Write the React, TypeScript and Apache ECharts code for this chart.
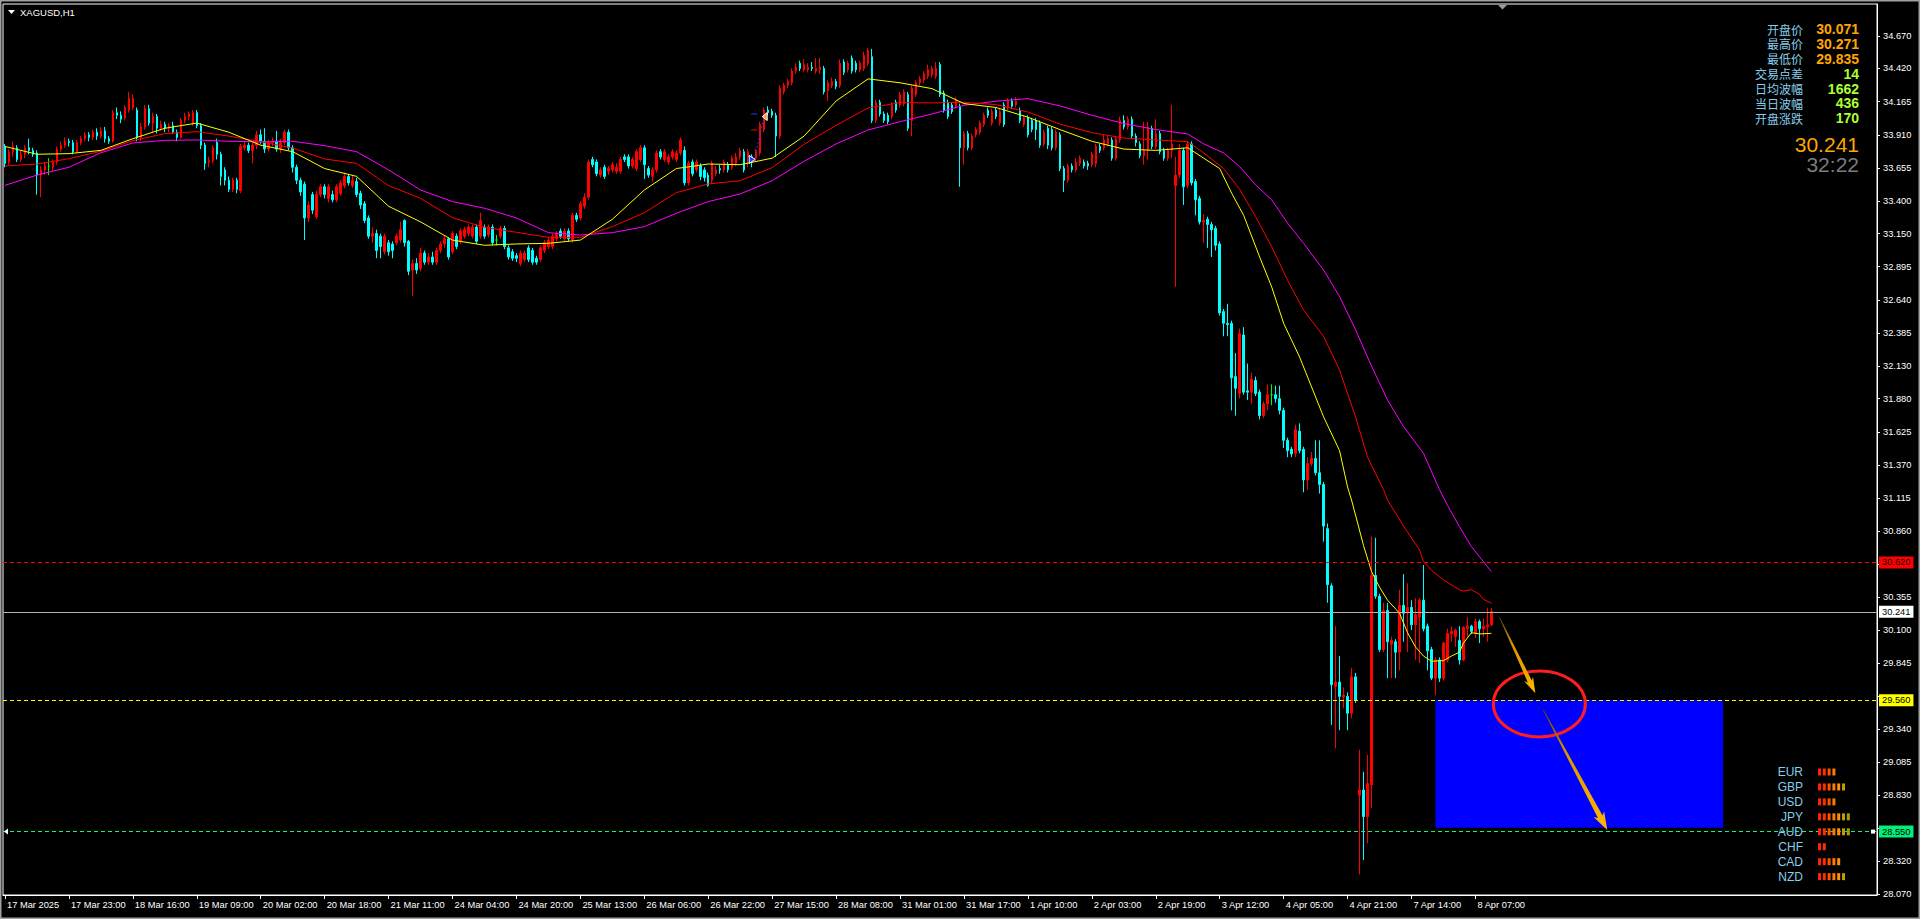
import React, { useEffect, useRef } from "react";
import * as echarts from "echarts";

const FONT = '"Liberation Sans", Arial, sans-serif';
const CJK = '"Noto Sans CJK SC", "Noto Sans", sans-serif';

const symbolTitle = "XAGUSD,H1";
const xTickLabels = [
  "17 Mar 2025", "17 Mar 23:00", "18 Mar 16:00", "19 Mar 09:00", "20 Mar 02:00", "20 Mar 18:00",
  "21 Mar 11:00", "24 Mar 04:00", "24 Mar 20:00", "25 Mar 13:00", "26 Mar 06:00", "26 Mar 22:00",
  "27 Mar 15:00", "28 Mar 08:00", "31 Mar 01:00", "31 Mar 17:00", "1 Apr 10:00", "2 Apr 03:00",
  "2 Apr 19:00", "3 Apr 12:00", "4 Apr 05:00", "4 Apr 21:00", "7 Apr 14:00", "8 Apr 07:00",
];
const BARS_PER_LABEL = 16;
const SLOT_COUNT = 469; // bars + empty chart shift on the right

// price-scale ticks; labels hidden under the price tags are left out of the label list
const yTickValues = [
  34.67, 34.42, 34.165, 33.91, 33.655, 33.4, 33.15, 32.895, 32.64, 32.385, 32.13, 31.88, 31.625,
  31.37, 31.115, 30.86, 30.605, 30.355, 30.1, 29.845, 29.59, 29.34, 29.085, 28.83, 28.575, 28.32, 28.07,
];
const yLabelValues = [
  34.67, 34.42, 34.165, 33.91, 33.655, 33.4, 33.15, 32.895, 32.64, 32.385, 32.13, 31.88, 31.625,
  31.37, 31.115, 30.86, 30.355, 30.1, 29.845, 29.34, 29.085, 28.83, 28.32, 28.07,
];
const Y_MIN = 28.062;
const Y_MAX = 34.916;

// [open, close, low, high]
const bars17Mar = [
  [33.82, 33.69, 33.66, 33.84], [33.7, 33.78, 33.68, 33.8], [33.78, 33.82, 33.74, 33.86], [33.81, 33.72, 33.7, 33.83],
  [33.72, 33.76, 33.7, 33.79], [33.76, 33.81, 33.73, 33.83], [33.81, 33.79, 33.76, 33.88], [33.79, 33.76, 33.74, 33.81],
  [33.77, 33.6, 33.45, 33.79], [33.6, 33.64, 33.43, 33.67], [33.64, 33.67, 33.6, 33.7], [33.67, 33.67, 33.6, 33.73],
  [33.66, 33.7, 33.63, 33.72], [33.7, 33.8, 33.68, 33.82], [33.8, 33.83, 33.78, 33.86], [33.83, 33.86, 33.81, 33.89],
  [33.86, 33.85, 33.82, 33.88],
];
const bars18Mar = [
  [33.85, 33.78, 33.76, 33.87], [33.78, 33.85, 33.77, 33.87], [33.85, 33.88, 33.83, 33.9], [33.88, 33.91, 33.86, 33.93],
  [33.91, 33.89, 33.86, 33.93], [33.89, 33.93, 33.87, 33.95], [33.93, 33.9, 33.87, 33.96], [33.9, 33.94, 33.88, 33.97],
  [33.94, 33.88, 33.85, 33.97], [33.88, 33.86, 33.84, 33.9], [33.86, 34.08, 33.85, 34.1], [34.08, 34.06, 34.03, 34.12],
  [34.06, 34.03, 34.0, 34.09], [34.04, 34.12, 34.02, 34.14], [34.1, 34.19, 34.08, 34.24], [34.12, 34.19, 34.1, 34.22],
  [34.1, 33.89, 33.86, 34.12], [33.89, 33.97, 33.86, 34.0], [33.97, 34.11, 33.95, 34.14], [34.11, 34.0, 33.98, 34.14],
  [34.0, 34.05, 33.93, 34.08], [34.05, 33.96, 33.92, 34.07], [33.96, 33.99, 33.94, 34.02],
];
const bars19Mar = [
  [33.99, 33.96, 33.93, 34.01], [33.96, 33.98, 33.93, 34.0], [33.98, 33.93, 33.92, 34.01], [33.93, 33.89, 33.86, 33.95],
  [33.89, 34.02, 33.88, 34.04], [34.02, 34.05, 34.0, 34.08], [34.05, 34.07, 34.02, 34.09], [34.0, 34.08, 33.98, 34.1],
  [34.08, 33.98, 33.96, 34.1], [33.98, 33.83, 33.8, 34.0], [33.83, 33.69, 33.64, 33.85], [33.7, 33.71, 33.66, 33.74],
  [33.71, 33.81, 33.69, 33.83], [33.85, 33.76, 33.72, 33.88], [33.76, 33.59, 33.52, 33.78], [33.64, 33.56, 33.52, 33.66],
  [33.56, 33.49, 33.47, 33.59], [33.49, 33.56, 33.47, 33.58], [33.56, 33.49, 33.46, 33.58], [33.48, 33.82, 33.46, 33.84],
  [33.81, 33.83, 33.79, 33.86], [33.83, 33.79, 33.77, 33.85], [33.79, 33.83, 33.69, 33.85],
];
const bars20Mar = [
  [33.83, 33.91, 33.8, 33.94], [33.91, 33.86, 33.84, 33.95], [33.86, 33.8, 33.77, 33.96], [33.8, 33.85, 33.78, 33.87],
  [33.85, 33.86, 33.82, 33.89], [33.86, 33.8, 33.78, 33.94], [33.8, 33.85, 33.77, 33.88], [33.85, 33.93, 33.83, 33.95],
  [33.93, 33.81, 33.79, 33.95], [33.81, 33.66, 33.62, 33.83], [33.66, 33.56, 33.53, 33.68], [33.56, 33.47, 33.44, 33.58],
  [33.53, 33.27, 33.1, 33.55], [33.27, 33.37, 33.24, 33.4], [33.45, 33.33, 33.3, 33.47], [33.28, 33.45, 33.26, 33.48],
  [33.45, 33.51, 33.43, 33.53], [33.51, 33.45, 33.42, 33.53], [33.42, 33.51, 33.39, 33.53], [33.45, 33.41, 33.39, 33.48],
  [33.41, 33.51, 33.39, 33.53], [33.46, 33.54, 33.44, 33.56], [33.52, 33.59, 33.5, 33.62],
];
const bars21Mar = [
  [33.59, 33.54, 33.52, 33.61], [33.52, 33.56, 33.5, 33.6], [33.55, 33.45, 33.43, 33.58], [33.46, 33.37, 33.34, 33.48],
  [33.38, 33.25, 33.23, 33.4], [33.27, 33.13, 33.11, 33.29], [33.13, 33.15, 33.08, 33.2], [33.15, 33.02, 32.96, 33.18],
  [33.13, 33.05, 32.96, 33.15], [33.01, 33.13, 32.99, 33.15], [33.08, 33.01, 32.98, 33.1], [33.07, 33.02, 32.96, 33.09],
  [33.08, 33.13, 33.06, 33.15], [33.1, 33.18, 33.08, 33.24], [33.25, 33.08, 33.05, 33.26], [33.09, 32.86, 32.83, 33.1],
  [32.87, 32.92, 32.67, 32.95], [32.92, 32.87, 32.84, 32.96], [32.88, 33.0, 32.86, 33.04], [33.0, 32.93, 32.91, 33.02],
  [32.93, 32.97, 32.91, 33.0], [32.97, 32.93, 32.91, 33.01], [32.93, 33.02, 32.91, 33.04],
];
const bars24Mar = [
  [33.02, 33.07, 33.0, 33.09], [33.07, 33.11, 33.04, 33.13], [33.11, 32.97, 32.95, 33.12], [33.01, 33.15, 32.99, 33.17],
  [33.13, 33.05, 33.03, 33.15], [33.09, 33.17, 33.07, 33.19], [33.13, 33.18, 33.11, 33.2], [33.15, 33.2, 33.13, 33.22],
  [33.13, 33.2, 33.11, 33.22], [33.2, 33.09, 33.07, 33.22], [33.13, 33.25, 33.11, 33.31], [33.2, 33.13, 33.11, 33.22],
  [33.14, 33.2, 33.12, 33.22], [33.2, 33.08, 33.06, 33.22], [33.1, 33.1, 33.06, 33.14], [33.13, 33.19, 33.11, 33.21],
  [33.19, 33.05, 33.03, 33.21], [33.04, 32.97, 32.95, 33.06], [33.01, 32.96, 32.94, 33.03], [32.98, 32.96, 32.93, 33.0],
  [32.92, 33.0, 32.9, 33.02], [32.95, 33.0, 32.93, 33.02], [33.04, 32.95, 32.93, 33.06],
];
const bars25Mar = [
  [33.02, 32.93, 32.91, 33.04], [32.96, 32.93, 32.91, 32.98], [32.95, 33.04, 32.93, 33.06], [33.02, 33.08, 33.0, 33.1],
  [33.05, 33.1, 33.03, 33.12], [33.05, 33.13, 33.03, 33.15], [33.11, 33.15, 33.09, 33.17], [33.17, 33.13, 33.11, 33.19],
  [33.11, 33.17, 33.09, 33.19], [33.17, 33.11, 33.09, 33.19], [33.1, 33.29, 33.08, 33.31], [33.29, 33.26, 33.24, 33.31],
  [33.27, 33.38, 33.25, 33.4], [33.36, 33.43, 33.34, 33.46], [33.43, 33.7, 33.41, 33.72], [33.72, 33.68, 33.66, 33.74],
  [33.7, 33.61, 33.59, 33.72], [33.6, 33.64, 33.58, 33.66], [33.66, 33.59, 33.57, 33.68], [33.63, 33.65, 33.6, 33.67],
  [33.64, 33.68, 33.62, 33.7], [33.63, 33.66, 33.61, 33.69], [33.63, 33.72, 33.61, 33.74],
];
const bars26Mar = [
  [33.74, 33.72, 33.7, 33.76], [33.74, 33.67, 33.65, 33.76], [33.67, 33.72, 33.65, 33.74], [33.65, 33.78, 33.63, 33.8],
  [33.72, 33.81, 33.7, 33.83], [33.81, 33.68, 33.57, 33.83], [33.65, 33.6, 33.58, 33.67], [33.59, 33.64, 33.55, 33.66],
  [33.64, 33.77, 33.62, 33.79], [33.78, 33.74, 33.72, 33.8], [33.72, 33.78, 33.7, 33.8], [33.7, 33.74, 33.68, 33.76],
  [33.74, 33.78, 33.72, 33.8], [33.72, 33.77, 33.7, 33.79], [33.77, 33.87, 33.75, 33.89], [33.79, 33.54, 33.52, 33.82],
  [33.54, 33.69, 33.52, 33.71], [33.7, 33.61, 33.59, 33.72], [33.64, 33.7, 33.62, 33.72], [33.67, 33.59, 33.56, 33.69],
  [33.64, 33.58, 33.55, 33.66], [33.6, 33.52, 33.51, 33.62], [33.56, 33.69, 33.54, 33.71],
];
const bars27Mar = [
  [33.61, 33.64, 33.59, 33.67], [33.65, 33.64, 33.61, 33.68], [33.64, 33.7, 33.62, 33.72], [33.68, 33.64, 33.62, 33.7],
  [33.66, 33.73, 33.64, 33.75], [33.69, 33.74, 33.67, 33.77], [33.74, 33.79, 33.72, 33.81], [33.78, 33.64, 33.62, 33.8],
  [33.74, 33.78, 33.66, 33.8], [33.74, 33.7, 33.66, 33.76], [33.73, 33.78, 33.7, 33.8], [33.77, 33.99, 33.75, 34.01],
  [33.95, 34.1, 33.93, 34.12], [34.1, 34.08, 34.06, 34.13], [34.09, 34.06, 34.04, 34.11], [34.06, 33.9, 33.74, 34.08],
  [33.9, 34.27, 33.88, 34.29], [34.24, 34.29, 34.22, 34.31], [34.29, 34.32, 34.27, 34.34], [34.31, 34.4, 34.29, 34.42],
  [34.4, 34.43, 34.38, 34.46], [34.46, 34.42, 34.4, 34.48], [34.41, 34.45, 34.39, 34.49],
];
const bars28Mar = [
  [34.41, 34.43, 34.39, 34.46], [34.43, 34.42, 34.4, 34.47], [34.4, 34.42, 34.38, 34.5], [34.41, 34.43, 34.38, 34.5],
  [34.42, 34.24, 34.22, 34.44], [34.25, 34.31, 34.17, 34.33], [34.29, 34.32, 34.27, 34.35], [34.32, 34.28, 34.26, 34.34],
  [34.29, 34.46, 34.27, 34.49], [34.47, 34.39, 34.37, 34.49], [34.41, 34.46, 34.39, 34.48], [34.5, 34.4, 34.38, 34.52],
  [34.46, 34.41, 34.39, 34.48], [34.41, 34.46, 34.39, 34.48], [34.42, 34.52, 34.4, 34.55], [34.46, 34.56, 34.44, 34.58],
  [34.51, 34.02, 34.0, 34.57], [34.02, 34.16, 34.0, 34.18], [34.16, 34.07, 34.05, 34.18], [34.07, 34.02, 34.0, 34.09],
  [34.06, 34.01, 33.99, 34.08], [34.05, 34.14, 34.03, 34.16], [34.16, 34.1, 34.08, 34.18],
];
const bars31Mar = [
  [34.14, 34.22, 34.12, 34.24], [34.15, 34.24, 34.13, 34.26], [34.22, 33.96, 33.94, 34.24], [34.02, 34.27, 33.9, 34.29],
  [34.22, 34.31, 34.2, 34.33], [34.31, 34.34, 34.29, 34.36], [34.33, 34.38, 34.31, 34.4], [34.36, 34.41, 34.34, 34.45],
  [34.37, 34.42, 34.35, 34.44], [34.36, 34.42, 34.34, 34.47], [34.45, 34.22, 34.2, 34.47], [34.23, 34.1, 34.08, 34.25],
  [34.16, 34.05, 34.03, 34.18], [34.14, 34.09, 34.07, 34.16], [34.13, 34.18, 34.11, 34.2], [34.13, 33.81, 33.51, 34.15],
  [33.81, 33.92, 33.68, 33.94], [33.92, 33.81, 33.79, 33.94], [33.81, 33.9, 33.79, 33.92], [33.91, 33.95, 33.89, 33.97],
  [33.93, 34.0, 33.91, 34.02], [33.99, 34.06, 33.97, 34.08], [34.1, 34.06, 34.04, 34.12],
];
const bars1Apr = [
  [34.0, 34.09, 33.98, 34.11], [34.1, 34.05, 34.03, 34.12], [34.0, 34.09, 33.98, 34.11], [34.14, 33.99, 33.97, 34.16],
  [34.12, 34.17, 34.1, 34.19], [34.17, 34.13, 34.11, 34.19], [34.14, 34.17, 34.12, 34.2], [34.1, 34.02, 34.0, 34.12],
  [33.99, 34.04, 33.97, 34.06], [34.04, 33.91, 33.89, 34.06], [34.02, 33.95, 33.93, 34.04], [34.02, 33.95, 33.87, 34.04],
  [34.0, 33.83, 33.81, 34.02], [33.84, 33.93, 33.82, 33.95], [33.96, 33.83, 33.8, 33.98], [33.95, 33.81, 33.79, 33.97],
  [33.81, 33.93, 33.79, 33.95], [33.91, 33.65, 33.63, 33.93], [33.65, 33.56, 33.47, 33.67], [33.56, 33.67, 33.54, 33.69],
  [33.67, 33.64, 33.62, 33.69], [33.64, 33.7, 33.62, 33.73], [33.69, 33.73, 33.67, 33.75],
];
const bars2Apr = [
  [33.7, 33.67, 33.65, 33.72], [33.69, 33.67, 33.64, 33.71], [33.68, 33.76, 33.66, 33.78], [33.69, 33.82, 33.66, 33.84],
  [33.82, 33.79, 33.77, 33.84], [33.81, 33.87, 33.79, 33.91], [33.84, 33.88, 33.82, 33.9], [33.87, 33.73, 33.71, 33.89],
  [33.73, 33.88, 33.71, 33.9], [33.87, 34.02, 33.85, 34.05], [34.02, 33.97, 33.95, 34.06], [33.97, 34.03, 33.95, 34.05],
  [34.03, 33.9, 33.88, 34.05], [33.9, 33.85, 33.82, 33.92], [33.84, 33.75, 33.73, 33.86], [33.75, 33.79, 33.68, 34.01],
  [33.79, 33.97, 33.72, 34.01], [33.96, 33.82, 33.8, 33.98], [33.82, 33.92, 33.8, 34.03], [33.92, 33.78, 33.76, 33.94],
  [33.79, 33.73, 33.71, 33.81], [33.73, 33.79, 33.71, 33.81], [33.79, 33.84, 33.73, 34.14],
];
const bars3Apr = [
  [33.52, 33.6, 32.74, 33.74], [33.6, 33.79, 33.58, 33.84], [33.79, 33.51, 33.37, 33.81], [33.52, 33.84, 33.5, 33.86],
  [33.84, 33.54, 33.52, 33.86], [33.55, 33.41, 33.29, 33.57], [33.42, 33.24, 33.22, 33.44], [33.24, 33.25, 33.08, 33.3],
  [33.26, 33.22, 33.04, 33.28], [33.22, 33.18, 32.97, 33.24], [33.19, 33.06, 33.02, 33.21], [33.07, 32.54, 32.52, 33.09],
  [32.55, 32.46, 32.36, 32.57], [32.46, 32.45, 32.36, 32.61], [32.46, 32.04, 31.79, 32.48], [32.05, 31.96, 31.75, 32.23],
  [31.92, 32.38, 31.88, 32.42], [32.37, 31.93, 31.91, 32.43], [31.94, 31.93, 31.87, 32.15], [31.93, 32.03, 31.84, 32.08],
  [32.02, 31.92, 31.9, 32.05], [31.93, 31.75, 31.72, 31.95], [31.75, 31.84, 31.73, 31.86],
];
const bars4Apr = [
  [31.84, 31.91, 31.79, 31.99], [31.91, 31.91, 31.83, 31.99], [31.91, 31.88, 31.85, 31.98], [31.88, 31.79, 31.76, 31.98],
  [31.79, 31.56, 31.5, 31.81], [31.56, 31.48, 31.43, 31.58], [31.49, 31.455, 31.43, 31.51], [31.46, 31.64, 31.43, 31.68],
  [31.63, 31.48, 31.46, 31.69], [31.49, 31.255, 31.16, 31.51], [31.255, 31.38, 31.18, 31.43], [31.38, 31.42, 31.36, 31.47],
  [31.42, 31.31, 31.29, 31.56], [31.31, 31.22, 31.15, 31.56], [31.22, 30.9, 30.78, 31.24], [30.88, 30.45, 30.31, 30.92],
  [30.44, 29.68, 29.37, 30.46], [29.665, 29.7, 29.19, 30.13], [29.7, 29.59, 29.33, 29.9], [29.585, 29.6, 29.5, 29.66],
  [29.59, 29.46, 29.33, 29.62], [29.46, 29.74, 29.42, 29.81], [29.74, 29.56, 29.54, 29.77],
];
const bars7Apr = [
  [28.83, 28.87, 28.22, 29.18], [28.87, 28.665, 28.33, 29.01], [28.665, 28.92, 28.46, 29.14], [28.91, 30.52, 28.73, 30.82],
  [30.52, 30.36, 30.34, 30.81], [30.36, 29.95, 29.93, 30.38], [29.95, 30.25, 29.93, 30.31], [30.25, 30.01, 29.73, 30.31],
  [29.99, 30.02, 29.73, 30.05], [30.01, 29.93, 29.73, 30.03], [29.93, 30.29, 29.79, 30.41], [30.29, 30.23, 30.01, 30.53],
  [30.23, 30.275, 29.93, 30.46], [30.275, 30.14, 30.1, 30.33], [30.14, 30.22, 29.87, 30.345], [30.2, 30.33, 29.845, 30.345],
  [30.33, 30.11, 30.09, 30.6], [30.13, 29.94, 29.79, 30.15], [29.95, 29.73, 29.715, 29.97], [29.73, 29.87, 29.6, 29.89],
  [29.87, 29.73, 29.7, 29.89], [29.73, 30.0, 29.71, 30.01], [29.87, 30.075, 29.85, 30.11],
];
const bars8Apr = [
  [30.071, 30.09, 30.01, 30.13], [30.05, 30.1, 29.97, 30.11], [30.02, 29.87, 29.835, 30.13], [29.87, 30.12, 29.86, 30.13],
  [30.11, 30.13, 30.05, 30.2], [30.13, 30.09, 30.07, 30.14], [30.075, 30.165, 30.04, 30.19], [30.165, 30.11, 30.0, 30.18],
  [30.11, 30.13, 30.05, 30.19], [30.125, 30.14, 30.01, 30.271], [30.14, 30.241, 30.13, 30.27],
];

// Moving averages: [bar index, value]
const maFast = [
  [0, 33.82], [8, 33.76], [16, 33.765], [24, 33.79], [32, 33.88], [40, 33.96], [48, 34.0], [56, 33.93], [64, 33.83],
  [72, 33.78], [80, 33.65], [88, 33.59], [96, 33.36], [104, 33.24], [112, 33.1], [120, 33.06], [128, 33.07],
  [136, 33.075], [144, 33.1], [152, 33.26], [160, 33.485], [168, 33.65], [176, 33.685], [184, 33.68], [192, 33.73],
  [200, 33.9], [208, 34.17], [216, 34.34], [224, 34.31], [232, 34.265], [240, 34.15], [248, 34.12], [256, 34.045],
  [264, 33.95], [272, 33.86], [280, 33.8], [288, 33.79], [296, 33.81], [300, 33.73], [304, 33.65], [307, 33.46],
  [310, 33.29], [314, 32.97], [317, 32.74], [320, 32.46], [324, 32.2], [327, 31.97], [330, 31.74], [334, 31.48],
  [336, 31.2], [337, 31.1], [340, 30.75], [342, 30.55], [344, 30.43], [346, 30.33], [349, 30.23], [351, 30.08],
  [353, 29.97], [355, 29.9], [357, 29.86], [360, 29.865], [362, 29.9], [364, 29.93], [365, 30.0], [367, 30.08],
  [369, 30.07], [372, 30.075],
];
const maMid = [
  [0, 33.67], [8, 33.685], [16, 33.726], [24, 33.783], [32, 33.865], [40, 33.919], [48, 33.934], [56, 33.9],
  [64, 33.857], [72, 33.808], [80, 33.724], [88, 33.69], [96, 33.519], [104, 33.421], [112, 33.272], [120, 33.198],
  [128, 33.16], [136, 33.121], [144, 33.121], [152, 33.203], [160, 33.31], [168, 33.465], [176, 33.532], [184, 33.557],
  [192, 33.657], [200, 33.837], [208, 33.983], [216, 34.116], [224, 34.157], [232, 34.155], [240, 34.16], [248, 34.142],
  [256, 34.085], [264, 33.993], [272, 33.926], [280, 33.885], [288, 33.87], [296, 33.857], [300, 33.77], [305, 33.65],
  [309, 33.49], [313, 33.28], [317, 33.05], [321, 32.79], [325, 32.56], [330, 32.36], [334, 32.1], [338, 31.74],
  [341, 31.43], [345, 31.18], [346, 31.1], [350, 30.9], [354, 30.716], [355, 30.627], [357, 30.56], [360, 30.485],
  [364, 30.41], [365, 30.4], [367, 30.41], [369, 30.375], [370, 30.337], [372, 30.306],
];
const maSlow = [
  [0, 33.521], [8, 33.6], [16, 33.66], [24, 33.772], [32, 33.847], [40, 33.867], [48, 33.87], [56, 33.86], [64, 33.855],
  [72, 33.86], [80, 33.826], [88, 33.78], [96, 33.64], [104, 33.485], [112, 33.396], [120, 33.345], [128, 33.27],
  [136, 33.157], [144, 33.139], [152, 33.157], [160, 33.203], [168, 33.306], [176, 33.396], [184, 33.455],
  [192, 33.557], [200, 33.706], [208, 33.84], [216, 33.947], [224, 34.011], [232, 34.07], [240, 34.137],
  [248, 34.168], [256, 34.188], [264, 34.132], [272, 34.06], [280, 33.996], [288, 33.95], [296, 33.916], [300, 33.84],
  [305, 33.77], [309, 33.665], [313, 33.524], [317, 33.41], [321, 33.23], [325, 33.075], [330, 32.87], [334, 32.665],
  [338, 32.41], [342, 32.13], [346, 31.87], [350, 31.665], [355, 31.46], [359, 31.18], [361, 31.06], [364, 30.896],
  [367, 30.742], [370, 30.626], [372, 30.55],
];

const levelRed = 30.62;
const lastPrice = 30.241;
const levelYellow = 29.56;
const levelGreen = 28.55;
const zoneTop = 29.56;
const zoneBottom = 28.58;
const zoneStartBar = 358;
const zoneEndBar = 430;
const arrowOne = [[374, 30.2], [383, 29.614]];
const arrowTwo = [[385, 29.485], [401, 28.562]];
const circleCenter = [384, 29.532];
const tradeOpen = [187, 33.72];
const tradeClose = [190, 34.05];
const tradeStop = 33.947;
const tradeTarget = 34.07;

const infoLabels = ["开盘价", "最高价", "最低价", "交易点差", "日均波幅", "当日波幅", "开盘涨跌"];
const infoValues = ["30.071", "30.271", "29.835", "14", "1662", "436", "170"];
const countdown = "32:22";
const currencies = ["EUR", "GBP", "USD", "JPY", "AUD", "CHF", "CAD", "NZD"];
const currencyStrength = [4, 6, 4, 7, 7, 2, 5, 6];
const strengthColors = ["#FF2400", "#FF2E00", "#FF5200", "#FF7A00", "#FF9200", "#C99A00", "#A3A300"];

const allBars = [
  ...bars17Mar, ...bars18Mar, ...bars19Mar, ...bars20Mar, ...bars21Mar, ...bars24Mar, ...bars25Mar, ...bars26Mar,
  ...bars27Mar, ...bars28Mar, ...bars31Mar, ...bars1Apr, ...bars2Apr, ...bars3Apr, ...bars4Apr, ...bars7Apr, ...bars8Apr,
];

function maSeriesData(points: number[][]) {
  const arr: (number | null)[] = new Array(allBars.length).fill(null);
  points.forEach(([i, v]) => {
    arr[i] = v;
  });
  return arr;
}

function hLine(value: number, color: string, type: any, labelBg: string) {
  return {
    yAxis: value,
    lineStyle: { color, type, width: 1 },
    label: {
      show: true,
      position: "end",
      distance: 2,
      formatter: value.toFixed(3),
      color: "#000",
      backgroundColor: labelBg,
      fontFamily: FONT,
      fontSize: 9.3,
      padding: [2, 3, 1, 3],
    },
  };
}

function arrowPoly(s: number[], t: number[], headLen: number, headHalf: number, w0: number, w1: number) {
  const dx = t[0] - s[0];
  const dy = t[1] - s[1];
  const len = Math.hypot(dx, dy);
  const ux = dx / len;
  const uy = dy / len;
  const nx = -uy;
  const ny = ux;
  const bx = t[0] - ux * headLen;
  const by = t[1] - uy * headLen;
  return [
    [s[0] + nx * w0, s[1] + ny * w0],
    [bx + nx * w1, by + ny * w1],
    [bx + nx * headHalf - ux * 3, by + ny * headHalf - uy * 3],
    [t[0], t[1]],
    [bx - nx * headHalf - ux * 3, by - ny * headHalf - uy * 3],
    [bx - nx * w1, by - ny * w1],
    [s[0] - nx * w0, s[1] - ny * w0],
  ];
}

export default function App() {
  const ref = useRef<HTMLDivElement>(null);

  useEffect(() => {
    if (!ref.current) return;
    const chart = echarts.init(ref.current, null, { renderer: "svg" });
    const categories = Array.from({ length: SLOT_COUNT }, (_, i) => String(i));
    const showLabel = (index: number) =>
      index % BARS_PER_LABEL === 0 && index / BARS_PER_LABEL < xTickLabels.length;

    const option: any = {
      animation: false,
      backgroundColor: "#000000",
      textStyle: { fontFamily: FONT },
      grid: {
        left: 3,
        top: 4,
        right: 43,
        bottom: 24,
        show: true,
        borderColor: "#FFFFFF",
        borderWidth: 1,
        backgroundColor: "transparent",
      },
      xAxis: {
        type: "category",
        data: categories,
        boundaryGap: true,
        axisLine: { show: true, lineStyle: { color: "#FFFFFF", width: 1 } },
        axisTick: {
          show: true,
          alignWithLabel: true,
          interval: (index: number) => showLabel(index),
          length: 4,
          lineStyle: { color: "#FFFFFF" },
        },
        axisLabel: {
          show: true,
          interval: (index: number) => showLabel(index),
          formatter: (_v: string, index: number) => xTickLabels[index / BARS_PER_LABEL] ?? "",
          color: "#FFFFFF",
          fontFamily: FONT,
          fontSize: 9.3,
          align: "left",
          margin: 5,
          padding: [0, 0, 0, 2],
        },
        splitLine: { show: false },
      },
      yAxis: {
        type: "value",
        position: "right",
        min: Y_MIN,
        max: Y_MAX,
        scale: true,
        axisLine: { show: true, lineStyle: { color: "#FFFFFF", width: 1 } },
        axisTick: { show: true, customValues: yTickValues, length: 3, lineStyle: { color: "#FFFFFF" } },
        axisLabel: {
          show: true,
          customValues: yLabelValues,
          formatter: (v: number) => v.toFixed(3),
          color: "#FFFFFF",
          fontFamily: FONT,
          fontSize: 9.3,
          margin: 6,
        },
        splitLine: { show: false },
      },
      series: [
        {
          type: "candlestick",
          data: allBars,
          barWidth: 2,
          large: false,
          z: 2,
          itemStyle: {
            color: "#FF0000",
            color0: "#00FFFF",
            borderColor: "#FF0000",
            borderColor0: "#00FFFF",
            borderColorDoji: "#00FF00",
            borderWidth: 1,
          },
          markArea: {
            silent: true,
            itemStyle: { color: "#0000FF", opacity: 1, borderWidth: 0 },
            data: [[{ coord: [zoneStartBar, zoneTop] }, { coord: [zoneEndBar, zoneBottom] }]],
          },
          markLine: {
            silent: true,
            symbol: ["none", "none"],
            animation: false,
            z: 5,
            data: [
              hLine(levelRed, "#FF0000", [4, 3], "#FF0000"),
              hLine(lastPrice, "#B4B4B4", "solid", "#FFFFFF"),
              hLine(levelYellow, "#FFFF00", [4, 3], "#FFFF00"),
              hLine(levelGreen, "#00FA7D", [4, 3], "#00F07A"),
            ],
          },
        },
        {
          type: "line",
          data: maSeriesData(maSlow),
          connectNulls: true,
          showSymbol: false,
          lineStyle: { color: "#FF00FF", width: 1 },
          z: 3,
        },
        {
          type: "line",
          data: maSeriesData(maMid),
          connectNulls: true,
          showSymbol: false,
          lineStyle: { color: "#FF0000", width: 1 },
          z: 3,
        },
        {
          type: "line",
          data: maSeriesData(maFast),
          connectNulls: true,
          showSymbol: false,
          lineStyle: { color: "#FFFF00", width: 1 },
          z: 3,
        },
      ],
    };
    chart.setOption(option);

    const px = (bar: number, price: number) =>
      chart.convertToPixel({ gridIndex: 0 }, [bar, price]) as unknown as number[];

    const g: any[] = [];
    const Z = 100;
    // window frame
    g.push({
      type: "rect",
      silent: true,
      z: Z + 20,
      shape: { x: 0, y: 0, width: 1920, height: 919 },
      style: { fill: "none", stroke: "#A0A0A0", lineWidth: 3 },
    });
    // title
    g.push({ type: "polygon", silent: true, z: Z, shape: { points: [[8, 10], [15, 10], [11.5, 14]] }, style: { fill: "#FFFFFF" } });
    g.push({
      type: "text",
      silent: true,
      z: Z,
      style: { text: symbolTitle, x: 20, y: 12, fill: "#FFFFFF", font: `9.5px ${FONT}`, textVerticalAlign: "middle" },
    });
    // chart shift marker
    g.push({ type: "polygon", silent: true, z: Z, shape: { points: [[1498, 5], [1507, 5], [1502.5, 9.5]] }, style: { fill: "#9A9A9A" } });

    // info panel
    infoLabels.forEach((lab, k) => {
      const y = 29 + 14.88 * k;
      g.push({
        type: "text",
        silent: true,
        z: Z,
        style: { text: lab, x: 1803, y, fill: "#87CEEB", font: `12px ${CJK}`, textAlign: "right", textVerticalAlign: "middle" },
      });
      g.push({
        type: "text",
        silent: true,
        z: Z,
        style: {
          text: infoValues[k],
          x: 1859,
          y,
          fill: k < 3 ? "#FFA500" : "#ADFF2F",
          font: `bold 14px ${FONT}`,
          textAlign: "right",
          textVerticalAlign: "middle",
        },
      });
    });
    g.push({
      type: "text",
      silent: true,
      z: Z,
      style: { text: lastPrice.toFixed(3), x: 1859, y: 144.5, fill: "#FFA500", font: `21px ${FONT}`, textAlign: "right", textVerticalAlign: "middle" },
    });
    g.push({
      type: "text",
      silent: true,
      z: Z,
      style: { text: countdown, x: 1859, y: 164, fill: "#7C7C7C", font: `21px ${FONT}`, textAlign: "right", textVerticalAlign: "middle" },
    });

    // currency strength panel
    currencies.forEach((c, k) => {
      const y = 772 + 14.95 * k;
      g.push({
        type: "text",
        silent: true,
        z: Z,
        style: { text: c, x: 1803, y, fill: "#87CEEB", font: `12px ${FONT}`, textAlign: "right", textVerticalAlign: "middle" },
      });
      for (let b = 0; b < currencyStrength[k]; b++) {
        g.push({
          type: "rect",
          silent: true,
          z: Z,
          shape: { x: 1818 + b * 4.8, y: y - 3.5, width: 3, height: 7 },
          style: { fill: strengthColors[b] },
        });
      }
    });

    // green line anchors
    const gy = px(0, levelGreen)[1];
    g.push({ type: "polygon", silent: true, z: Z, shape: { points: [[4, gy], [8, gy - 3], [8, gy + 3]] }, style: { fill: "#FFFFFF" } });
    g.push({ type: "rect", silent: true, z: Z, shape: { x: 1871, y: gy - 2, width: 4, height: 4 }, style: { fill: "#FFFFFF" } });

    // red circle
    const cc = px(circleCenter[0], circleCenter[1]);
    g.push({
      type: "ellipse",
      silent: true,
      z: Z + 2,
      shape: { cx: cc[0], cy: cc[1], rx: 46, ry: 33 },
      style: { fill: "none", stroke: "#FF1E1E", lineWidth: 3 },
    });

    // arrows
    const drawArrow = (a: number[][], headLen: number, headHalf: number, w1: number) => {
      const s = px(a[0][0], a[0][1]);
      const t = px(a[1][0], a[1][1]);
      g.push({
        type: "polygon",
        silent: true,
        z: Z + 3,
        shape: { points: arrowPoly(s, t, headLen, headHalf, 0.4, w1) },
        style: {
          fill: new echarts.graphic.LinearGradient(s[0], s[1], t[0], t[1], [
            { offset: 0, color: "#5C4100" },
            { offset: 0.35, color: "#D89400" },
            { offset: 1, color: "#FFB800" },
          ], true),
        },
      });
    };
    drawArrow(arrowOne, 13, 5, 2.2);
    drawArrow(arrowTwo, 15, 6, 2.6);

    // past trade markers
    const tOpen = px(tradeOpen[0], tradeOpen[1]);
    const tClose = px(tradeClose[0], tradeClose[1]);
    g.push({
      type: "line",
      silent: true,
      z: Z,
      shape: { x1: tOpen[0] + 2, y1: tOpen[1], x2: tClose[0], y2: tClose[1] },
      style: { stroke: "#2040FF", lineWidth: 1, lineDash: [2, 2] },
    });
    const sY = px(tradeOpen[0], tradeStop)[1];
    const tY = px(tradeOpen[0], tradeTarget)[1];
    g.push({ type: "line", silent: true, z: Z, shape: { x1: tOpen[0] - 1, y1: tY, x2: tOpen[0] + 5, y2: tY }, style: { stroke: "#2040FF", lineWidth: 1 } });
    g.push({ type: "line", silent: true, z: Z, shape: { x1: tOpen[0] - 1, y1: sY, x2: tOpen[0] + 5, y2: sY }, style: { stroke: "#FF0000", lineWidth: 1 } });
    g.push({
      type: "polygon",
      silent: true,
      z: Z + 1,
      shape: { points: [[tOpen[0] - 3, tOpen[1] - 4], [tOpen[0] + 3, tOpen[1]], [tOpen[0] - 3, tOpen[1] + 4]] },
      style: { fill: "#1E3CFF", stroke: "#FFFFFF", lineWidth: 1 },
    });
    g.push({
      type: "polygon",
      silent: true,
      z: Z + 1,
      shape: { points: [[tClose[0] + 3, tClose[1] - 4], [tClose[0] - 2, tClose[1]], [tClose[0] + 3, tClose[1] + 4]] },
      style: { fill: "#FF9A30", stroke: "#FFFFFF", lineWidth: 1 },
    });

    chart.setOption({ graphic: { elements: g } });

    return () => {
      chart.dispose();
    };
  }, []);

  return (
    <div
      ref={ref}
      style={{ position: "fixed", left: 0, top: 0, width: 1920, height: 919, background: "#000" }}
    />
  );
}
